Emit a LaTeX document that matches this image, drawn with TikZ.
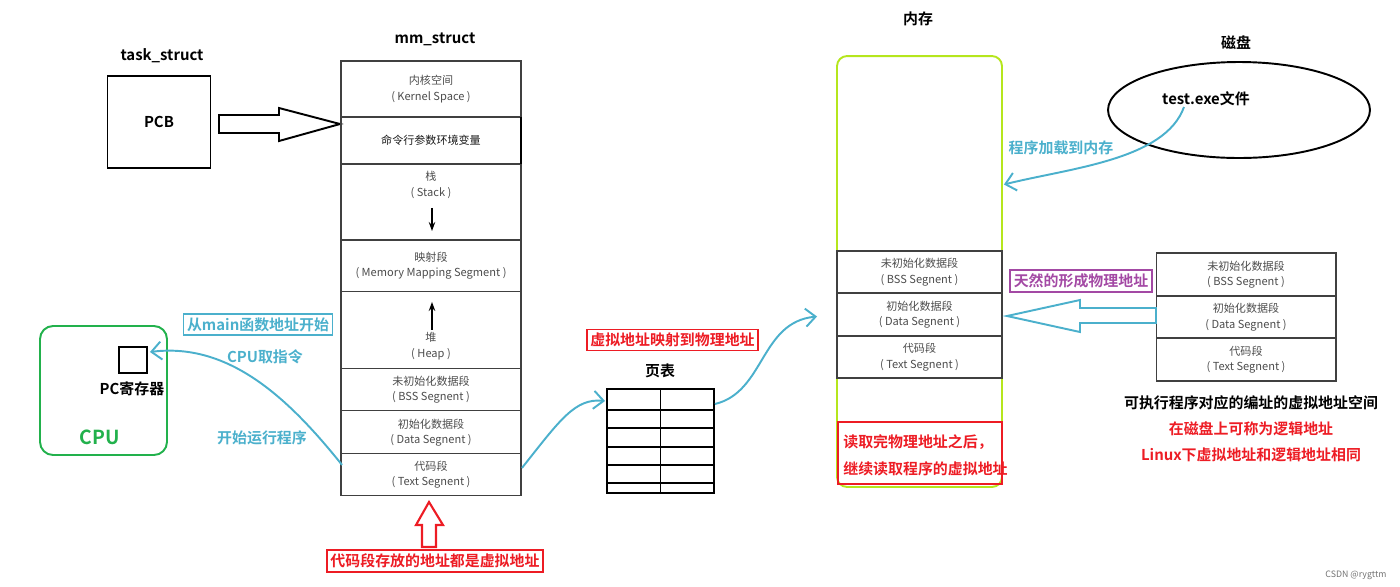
\documentclass[tikz,border=0pt]{standalone}
\usepackage{fontspec}
\setmainfont{Noto Sans CJK SC}[BoldFont={Noto Sans CJK SC Bold}]
\usepackage{xcolor}
\usetikzlibrary{arrows.meta,positioning,shapes.geometric,calc}
\definecolor{flowcyan}{RGB}{75,176,204}
\definecolor{cpugreen}{RGB}{34,177,76}
\definecolor{memgreen}{RGB}{181,230,29}
\definecolor{warnred}{RGB}{237,28,36}
\definecolor{tagpurple}{RGB}{163,73,164}

\begin{document}
\begin{tikzpicture}[
    x=0.02cm, y=-0.02cm,
    seg/.style={rectangle, draw=black!75, line width=0.6pt, minimum width=36mm, inner sep=0pt, outer sep=0pt, align=center, text=black!70, font=\fontsize{6.3}{8.8}\selectfont},
    seg_text/.style={align=center, inner sep=0pt, text=black!70, font=\fontsize{6.3}{8.8}\selectfont},
    title/.style={inner sep=0pt, font=\fontsize{8.5}{10}\selectfont\bfseries},
    note/.style={inner sep=0pt, align=center, font=\fontsize{8.5}{15.4}\selectfont\bfseries},
    tag_box/.style={rectangle, draw, line width=1pt, inner sep=2pt, font=\fontsize{8.5}{10}\selectfont\bfseries},
    flow/.style={draw=flowcyan, line width=1.1pt, -{Straight Barb[length=2mm,width=3.6mm]}},
    small_arrow/.style={line width=0.6pt, -{Stealth[length=1.8mm,width=1.3mm]}}
]
    \useasboundingbox (0,0) rectangle (1400,586);

    % task_struct
    \node[title] (ts_label) at (162,56) {task\_struct};
    \node[rectangle, draw, line width=1.1pt, minimum width=20.6mm, minimum height=18.4mm, title] (pcb) at (159,122) {PCB};
    \draw[line width=1.1pt] (219,115) -- (279,115) -- (279,108) -- (340,124) -- (279,141) -- (279,133) -- (219,133) -- cycle;

    % mm_struct
    \node[title] (mm_label) at (435,39) {mm\_struct};
    \node[seg, minimum height=11.2mm, anchor=north] (kern) at (431,61) {内核空间\\( Kernel Space )};
    \node[seg, minimum height=9.4mm, below=0pt of kern, text=black!90] (cmd) {命令行参数环境变量};
    \node[seg, minimum height=15.2mm, below=0pt of cmd] (stk) {};
    \node[seg, minimum height=10.4mm, below=0pt of stk] (mmap) {映射段\\( Memory Mapping Segment )};
    \node[seg, minimum height=15.4mm, below=0pt of mmap] (heap) {};
    \node[seg, minimum height=8.4mm, below=0pt of heap] (bss) {未初始化数据段\\( BSS Segnent )};
    \node[seg, minimum height=8.6mm, below=0pt of bss] (data) {初始化数据段\\( Data Segnent )};
    \node[seg, minimum height=8.4mm, below=0pt of data] (txt) {代码段\\( Text Segnent )};
    \draw[line width=1.2pt] (cmd.north east) -- (cmd.south east);
    \node[seg_text, anchor=north] (stk_text) at ($(stk.north)+(0,7)$) {栈\\( Stack )};
    \draw[small_arrow] ($(stk.north)+(1,44)$) -- ($(stk.north)+(1,67)$);
    \draw[small_arrow] ($(heap.north)+(1,38)$) -- ($(heap.north)+(1,10)$);
    \node[seg_text] (heap_text) at ($(heap.north)+(0,54)$) {堆\\( Heap )};

    % virtual address note
    \draw[warnred, line width=1.2pt] (422,547) -- (422,525) -- (416,525) -- (429,502) -- (443,525) -- (436,525) -- (436,547) -- cycle;
    \node[tag_box, draw=warnred, text=warnred] (va_note) at (435,561) {代码段存放的地址都是虚拟地址};

    % CPU
    \node[rectangle, rounded corners=2.6mm, draw=cpugreen, line width=1.1pt, minimum width=25.4mm, minimum height=25.8mm] (cpu) at (103.5,390.5) {};
    \node[inner sep=0pt, text=cpugreen, font=\fontsize{11}{12}\selectfont\bfseries] (cpu_label) at (100,437) {CPU};
    \node[rectangle, draw, line width=1.1pt, minimum width=5.6mm, minimum height=5.2mm] (pcreg) at (133,360) {};
    \node[title] (pc_label) at (132,389) {PC寄存器};

    \node[tag_box, draw=flowcyan, text=flowcyan] (main_tag) at (258,324.5) {从main函数地址开始};
    \node[title, text=flowcyan] (fetch_label) at (265,357) {CPU取指令};
    \node[title, text=flowcyan] (run_label) at (262,438) {开始运行程序};
    \draw[flow] ($(txt.west)+(1,-10)$) .. controls (290,400) and (230,342) .. ($(pcreg.east)+(2,-8)$);

    % memory
    \node[title] (mem_label) at (918,19) {内存};
    \node[rectangle, rounded corners=2mm, draw=memgreen, line width=1.1pt, minimum width=33mm, minimum height=86.2mm] (mem) at (919.5,271.5) {};
    \node[seg, minimum width=33mm, minimum height=8.4mm, anchor=north] (mem_bss) at (919.5,251) {未初始化数据段\\( BSS Segnent )};
    \node[seg, minimum width=33mm, minimum height=8.6mm, below=0pt of mem_bss] (mem_data) {初始化数据段\\( Data Segnent )};
    \node[seg, minimum width=33mm, minimum height=8.4mm, below=0pt of mem_data] (mem_txt) {代码段\\( Text Segnent )};
    \node[rectangle, draw=warnred, line width=1.1pt, minimum width=32.8mm, minimum height=12.4mm] (read_box) at (920,453) {};
    \node[note, text=warnred, align=left, anchor=west] (read_note) at (843,455) {读取完物理地址之后，\\继续读取程序的虚拟地址};

    % page table
    \node[tag_box, draw=warnred, text=warnred] (map_tag) at (672.5,340) {虚拟地址映射到物理地址};
    \node[title] (pt_label) at (660,371) {页表};
    \node[rectangle, draw, line width=1.1pt, minimum width=21.4mm, minimum height=20.8mm] (ptab) at (660.5,441) {};
    \draw[line width=1.1pt] (ptab.north) -- (ptab.south);
    \foreach \ry in {410,428,447,465,483} {
        \draw[line width=1.1pt] (ptab.west |- 0,\ry) -- (ptab.east |- 0,\ry);
    }
    \draw[flow] ($(txt.east)+(1,-7)$) .. controls (560,420) and (575,398) .. ($(ptab.west)+(-1,-40)$);
    \draw[flow] ($(ptab.east)+(0,-37)$) .. controls (765,392) and (760,322) .. ($(mem.west)+(-19,45)$);

    % disk
    \node[title] (disk_label) at (1236,43) {磁盘};
    \node[ellipse, draw, line width=1.1pt, minimum width=52.4mm, minimum height=19.2mm] (disk) at (1239,110) {};
    \node[title] (exe_label) at (1206,99) {test.exe文件};
    \node[title, text=flowcyan] (load_label) at (1061,148) {程序加载到内存};
    \draw[flow] (1184,107) .. controls (1165,160) and (1070,168) .. ($(mem.east)+(1,-87)$);

    % executable file on disk
    \node[seg, minimum height=8.6mm, anchor=north] (exe_bss) at (1246,253) {未初始化数据段\\( BSS Segnent )};
    \node[seg, minimum height=8.4mm, below=0pt of exe_bss] (exe_data) {初始化数据段\\( Data Segnent )};
    \node[seg, minimum height=8.6mm, below=0pt of exe_data] (exe_txt) {代码段\\( Text Segnent )};
    \draw[flowcyan, line width=1.1pt] (exe_data.west |- 0,308) -- (1080,308) -- (1080,300) -- (1007,316) -- (1080,332) -- (1080,323) -- (exe_data.west |- 0,323) -- cycle;
    \node[tag_box, draw=tagpurple, text=tagpurple] (phys_tag) at (1081,281) {天然的形成物理地址};
    \node[title] (space_label) at (1251,403) {可执行程序对应的编址的虚拟地址空间};
    \node[title, text=warnred] (logic_label) at (1251,429) {在磁盘上可称为逻辑地址};
    \node[title, text=warnred] (linux_label) at (1251,455) {Linux下虚拟地址和逻辑地址相同};

    \node[inner sep=0pt, text=black!55, font=\fontsize{5}{6}\selectfont] (mark) at (1356,575) {CSDN @rygttm};
\end{tikzpicture}
\end{document}
